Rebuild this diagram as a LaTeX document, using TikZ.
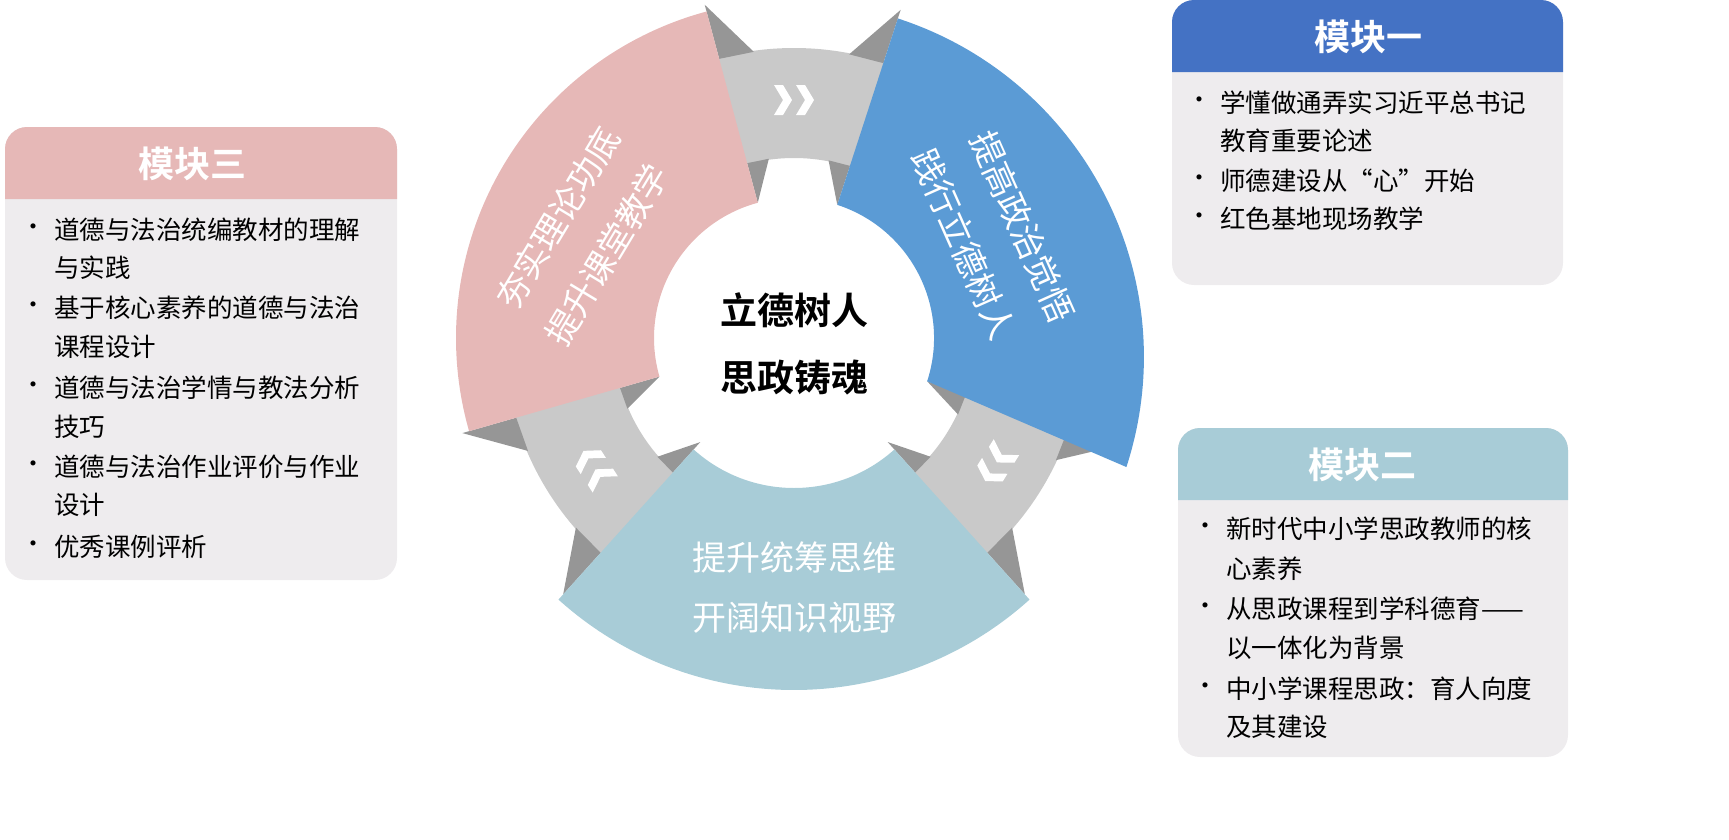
\documentclass[tikz,border=0pt]{standalone}
\usepackage{fontspec}
\setmainfont{Noto Sans CJK SC}[BoldFont={Noto Sans CJK SC Bold}]
\definecolor{pinkc}{HTML}{E6B8B7}
\definecolor{bluec}{HTML}{5B9BD5}
\definecolor{tealc}{HTML}{A8CCD7}
\definecolor{hdblue}{HTML}{4472C4}
\definecolor{ringc}{HTML}{C9C9C9}
\definecolor{darkc}{HTML}{969696}
\definecolor{bodyc}{HTML}{EEECEE}
\tikzset{
  sectxt/.style={text=white,font=\fontsize{34}{34}\selectfont,inner sep=0pt},
  ctr/.style={text=black,font=\fontsize{37}{37}\selectfont\bfseries,inner sep=0pt},
  hdtxt/.style={text=white,font=\fontsize{36}{36}\selectfont\bfseries,inner sep=0pt},
  itm/.style={text=black,font=\fontsize{25.5}{25.5}\selectfont,inner sep=0pt,anchor=west},
  bul/.style={text=black,font=\fontsize{24}{24}\selectfont,inner sep=0pt},
  chev/.style={fill=white}
}
\newcommand{\mybox}[6]{% x1 x2 top bottom headcolor name
  \fill[bodyc,rounded corners=22pt] (#1,#3) rectangle (#2,#4);
  \fill[#5] (#1,#3+72) [rounded corners=22pt] -- (#1,#3) -- (#2,#3) [sharp corners] -- (#2,#3+72) -- cycle;
}
\begin{document}
\begin{tikzpicture}[x=1pt,y=-1pt]
\useasboundingbox (0,0) rectangle (1729,839);
% ring
\begin{scope}[shift={(794,338)},x=1pt,y=1pt]
\fill[ringc,even odd rule] (0,0) circle[radius=290] (0,0) circle[radius=180];
% dark fold triangles
\foreach \a/\b in {105/98, 196/203, 72/79, -18/-25, 228/221, 312/319}{
  \fill[darkc] (\a:345) -- (\a:289) -- (\b:289) -- cycle;
  \fill[darkc] (\a:140) -- (\a:181) -- (\b:181) -- cycle;
}
% sectors
\fill[pinkc] (105:140) arc[start angle=105,end angle=196,radius=140] -- (196:338) arc[start angle=196,end angle=105,radius=338] -- cycle;
\fill[bluec] (-18:140) arc[start angle=-18,end angle=72,radius=140] -- (72:336) arc[start angle=72,end angle=-18,radius=356] -- cycle;
\fill[tealc] (228:150) arc[start angle=228,end angle=312,radius=150] -- (312:352) arc[start angle=312,end angle=228,radius=352] -- cycle;
% chevrons
\foreach \t in {90,-32,213}{
  \begin{scope}[shift={(\t:238)},rotate=\t-90]
    \foreach \o in {-11,11}{
      \fill[chev] (\o-9,15) -- (\o,15) -- (\o+9,0) -- (\o,-15) -- (\o-9,-15) -- (\o,0) -- cycle;
    }
  \end{scope}
}
% sector texts
\node[sectxt,rotate=59] (p1) at (153:265) {夯实理论功底};
\node[sectxt,rotate=59] (p2) at (156:205) {提升课堂教学};
\node[sectxt,rotate=-66] (b1) at (26:254) {提高政治觉悟};
\node[sectxt,rotate=-66] (b2) at (29:194) {践行立德树人};
\node[sectxt] (t1) at (270:220) {提升统筹思维};
\node[sectxt] (t2) at (270:280) {开阔知识视野};
\node[ctr] (c1) at (0,28) {立德树人};
\node[ctr] (c2) at (0,-40) {思政铸魂};
\end{scope}
% module one
\mybox{1172}{1563}{0}{285}{hdblue}{m1}
\node[hdtxt] (h1) at (1368,37) {模块一};
\node[bul] (b11) at (1199,103) {•};
\node[itm] (l11) at (1220,103) {学懂做通弄实习近平总书记};
\node[itm] (l12) at (1220,141) {教育重要论述};
\node[bul] (b12) at (1199,181) {•};
\node[itm] (l13) at (1220,181) {师德建设从“心”开始};
\node[bul] (b13) at (1199,219) {•};
\node[itm] (l14) at (1220,219) {红色基地现场教学};
% module three
\mybox{5}{397}{127}{580}{pinkc}{m3}
\node[hdtxt] (h3) at (192,164) {模块三};
\node[bul] (b31) at (33,230) {•};
\node[itm] (l31) at (54,230) {道德与法治统编教材的理解};
\node[itm] (l32) at (54,268) {与实践};
\node[bul] (b32) at (33,308) {•};
\node[itm] (l33) at (54,308) {基于核心素养的道德与法治};
\node[itm] (l34) at (54,347) {课程设计};
\node[bul] (b33) at (33,388) {•};
\node[itm] (l35) at (54,388) {道德与法治学情与教法分析};
\node[itm] (l36) at (54,427) {技巧};
\node[bul] (b34) at (33,467) {•};
\node[itm] (l37) at (54,467) {道德与法治作业评价与作业};
\node[itm] (l38) at (54,505) {设计};
\node[bul] (b35) at (33,547) {•};
\node[itm] (l39) at (54,547) {优秀课例评析};
% module two
\mybox{1178}{1568}{428}{757}{tealc}{m2}
\node[hdtxt] (h2) at (1362,465) {模块二};
\node[bul] (b21) at (1205,529) {•};
\node[itm] (l21) at (1226,529) {新时代中小学思政教师的核};
\node[itm] (l22) at (1226,569) {心素养};
\node[bul] (b22) at (1205,609) {•};
\node[itm] (l23) at (1226,609) {从思政课程到学科德育——};
\node[itm] (l24) at (1226,648) {以一体化为背景};
\node[bul] (b23) at (1205,689) {•};
\node[itm] (l25) at (1226,689) {中小学课程思政：育人向度};
\node[itm] (l26) at (1226,727) {及其建设};
\end{tikzpicture}
\end{document}
